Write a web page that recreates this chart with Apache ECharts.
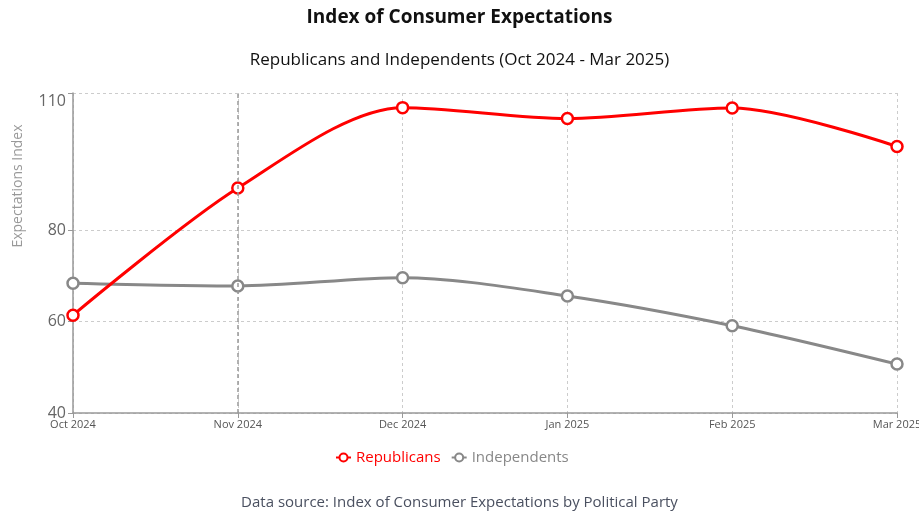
<!DOCTYPE html>
<html>
<head>
<meta charset="utf-8">
<script src="https://cdn.jsdelivr.net/npm/echarts@6/dist/echarts.min.js"></script>
<style>
  html, body { margin: 0; padding: 0; background: #fff; }
  #chart { width: 919px; height: 517px; }
</style>
</head>
<body>
<div id="chart"></div>
<script>
const months = ['Oct 2024', 'Nov 2024', 'Dec 2024', 'Jan 2025', 'Feb 2025', 'Mar 2025'];
const republicans = [61.4, 89.2, 106.8, 104.4, 106.7, 98.3];
const independents = [68.4, 67.8, 69.6, 65.6, 59.1, 50.7];
const yTicks = [40, 60, 80, 110];

const font = '"Open Sans", "Noto Sans", sans-serif';
const chart = echarts.init(document.getElementById('chart'));

chart.setOption({
  animation: false,
  textStyle: { fontFamily: font },
  title: [
    {
      text: 'Index of Consumer Expectations',
      left: 'center', top: 3,
      textStyle: { fontSize: 19, fontWeight: 'bold', color: '#111', fontFamily: font }
    },
    {
      text: 'Republicans and Independents (Oct 2024 - Mar 2025)',
      left: 'center', top: 47,
      textStyle: { fontSize: 17, fontWeight: 'normal', color: '#111', fontFamily: font }
    },
    {
      text: 'Data source: Index of Consumer Expectations by Political Party',
      left: 'center', top: 490,
      textStyle: { fontSize: 15, fontWeight: 'normal', color: '#4a5060', fontFamily: font }
    }
  ],
  graphic: [{
    type: 'text',
    x: 11, y: 186,
    rotation: Math.PI / 2,
    style: {
      text: 'Expectations Index',
      fill: '#999',
      font: '14px ' + font,
      align: 'center',
      verticalAlign: 'top'
    }
  }],
  legend: {
    bottom: 47,
    left: 330,
    itemWidth: 15,
    itemHeight: 10,
    itemGap: 10,
    textStyle: { fontSize: 15 },
    data: [
      { name: 'Republicans', textStyle: { color: '#ff0000' } },
      { name: 'Independents', textStyle: { color: '#888888' } }
    ]
  },
  grid: { left: 73, right: 22, top: 93, bottom: 104, containLabel: false, outerBoundsMode: 'none' },
  xAxis: {
    type: 'category',
    data: months,
    boundaryGap: false,
    axisLine: { lineStyle: { color: '#999', width: 1.5 } },
    axisTick: { show: true, length: 5, lineStyle: { color: '#999' } },
    axisLabel: { color: '#555', fontSize: 11, margin: 6 },
    splitLine: { show: true, lineStyle: { color: '#ccc', type: [3, 3] } }
  },
  yAxis: {
    type: 'value',
    min: 40,
    max: 110,
    axisLine: { show: true, lineStyle: { color: '#999', width: 1.5 } },
    axisTick: { show: true, length: 5, customValues: yTicks, lineStyle: { color: '#999' } },
    axisLabel: {
      color: '#666', fontSize: 16, margin: 7,
      customValues: yTicks,
      verticalAlignMaxLabel: 'top'
    },
    splitLine: { show: true, lineStyle: { color: '#ccc', type: [3, 3] } }
  },
  series: [
    {
      name: 'Republicans',
      type: 'line',
      data: republicans,
      smooth: 0.3,
      symbol: 'circle',
      symbolSize: 11,
      color: '#ff0000',
      lineStyle: { width: 3, color: '#ff0000' },
      itemStyle: { color: '#fff', borderColor: '#ff0000', borderWidth: 2.5 },
      markLine: {
        silent: true,
        symbol: 'none',
        label: { show: false },
        lineStyle: { color: '#999', type: [4, 3], width: 1.5 },
        data: [{ xAxis: months[1] }]
      },
      z: 3
    },
    {
      name: 'Independents',
      type: 'line',
      data: independents,
      smooth: 0.3,
      symbol: 'circle',
      symbolSize: 11,
      color: '#888888',
      lineStyle: { width: 3, color: '#888888' },
      itemStyle: { color: '#fff', borderColor: '#888888', borderWidth: 2.5 },
      z: 2
    }
  ]
});
</script>
</body>
</html>
